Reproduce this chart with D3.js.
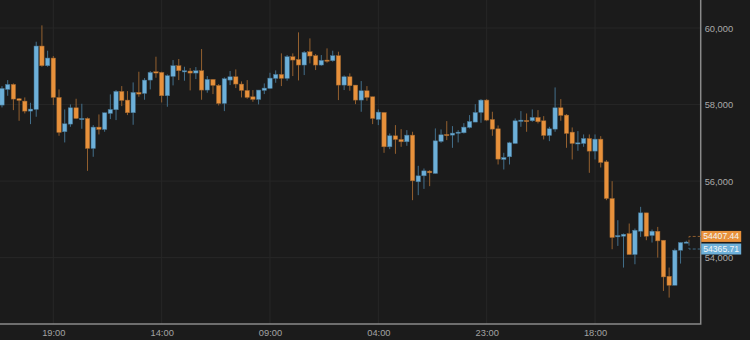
<!DOCTYPE html>
<html>
<head>
<meta charset="utf-8">
<script src="https://cdn.jsdelivr.net/npm/d3@7"></script>
<style>
  html, body { margin: 0; padding: 0; background: #1b1b1b; }
  svg { display: block; font-family: "Liberation Sans", Arial, sans-serif; }
</style>
</head>
<body>
<div id="chart"></div>
<script>
"use strict"

/*** DATA ***/
// hourly candles, first one opens at 10:00
let startTime = new Date(2021, 2, 1, 10, 0)

let openVals = [
    57986, 58396, 58527, 58152, 58091, 57829, 57873, 59530, 59015, 59216,
    58187, 57289, 57489, 57916, 57611, 57637, 56853, 57411, 57350, 57768,
    57864, 58344, 58117, 57786, 58318, 58291, 58640, 58858, 58841, 58230,
    58736, 59015, 58858, 58876, 58823, 58884, 58379, 58658, 58501, 58030,
    58640, 58727, 58536, 58370, 58204, 58134, 58370, 58422, 58684, 58788,
    58684, 59251, 59181, 59033, 59381, 59277, 59033, 59163, 59146, 59277,
    58509, 58727, 58509, 58117, 58361, 58204, 57611, 57794, 56896, 57184,
    57088, 57027, 57201, 55981, 56138, 56260, 56199, 57036, 57219, 57201,
    57254, 57262, 57402, 57542, 57794, 58117, 57611, 57367, 56565, 56635,
    56983, 57559, 57585, 57576, 57664, 57576, 57193, 57358, 57916, 57725,
    57280, 56975, 56983, 57114, 56783, 57097, 56504, 55545, 54542, 54559,
    54629, 54080, 54690, 55170, 54577, 54690, 54455, 53513, 53277, 54193,
    54394
]
let highVals = [
    58483, 58640, 58553, 58169, 58187, 58047, 59643, 60070, 59408, 59268,
    58396, 57873, 58004, 58152, 58021, 57664, 57463, 57742, 57786, 58265,
    58379, 58483, 58352, 58579, 58858, 58692, 58876, 59251, 58858, 58788,
    59163, 59190, 58989, 58954, 58980, 59451, 58745, 58658, 58536, 58710,
    58876, 58919, 58605, 58640, 58379, 58379, 58553, 58832, 58893, 59338,
    59294, 59338, 59887, 59399, 59730, 59320, 59294, 59469, 59408, 59381,
    58762, 58815, 58509, 58614, 58483, 58204, 57873, 57794, 57245, 57463,
    57358, 57332, 57289, 56399, 56329, 56286, 57376, 57350, 57568, 57437,
    57332, 57515, 57725, 58012, 58143, 58143, 57812, 57454, 56739, 57027,
    57637, 57829, 57768, 57873, 57855, 57698, 57419, 58448, 58143, 57751,
    57402, 57306, 57219, 57219, 57219, 57175, 56547, 55998, 54978, 54629,
    54891, 54760, 55327, 55170, 54734, 54803, 54455, 53740, 54237, 54394,
    54440
]
let lowVals = [
    57925, 58230, 57855, 57576, 57768, 57489, 57681, 58989, 58989, 57986,
    57184, 57010, 57419, 57620, 57367, 56268, 56635, 57219, 57289, 57620,
    57594, 57960, 57725, 57472, 58204, 58126, 58396, 58701, 58056, 57943,
    58501, 58640, 58623, 58370, 58666, 58126, 58309, 58274, 57977, 57829,
    58509, 58431, 58187, 58152, 58073, 58004, 58274, 58413, 58570, 58483,
    58623, 58745, 58631, 58771, 59076, 58902, 59015, 59094, 59120, 58117,
    58379, 58361, 58012, 57812, 58100, 57489, 57463, 56739, 56835, 56713,
    56896, 56922, 55501, 55632, 55797, 55867, 56199, 57001, 57071, 56870,
    57010, 57245, 57376, 57542, 57524, 57568, 57184, 56434, 56303, 56434,
    56983, 57419, 57289, 57550, 57507, 57088, 57044, 57289, 57576, 56870,
    56565, 56792, 56896, 56216, 56565, 56356, 55501, 54219, 54306, 53740,
    54080, 53827, 54542, 54455, 54394, 54001, 53129, 52955, 53277, 53844,
    54380
]
let closeVals = [
    58422, 58527, 58143, 58108, 57829, 57882, 59530, 59015, 59216, 58187,
    57271, 57498, 57916, 57637, 57637, 56853, 57411, 57350, 57786, 57873,
    58344, 58108, 57786, 58318, 58274, 58640, 58841, 58823, 58230, 58754,
    59015, 58884, 58884, 58823, 58884, 58379, 58658, 58501, 58030, 58675,
    58727, 58536, 58370, 58187, 58134, 58379, 58431, 58692, 58788, 58684,
    59251, 59163, 59033, 59364, 59268, 59033, 59155, 59137, 59277, 58509,
    58727, 58492, 58117, 58361, 58187, 57637, 57803, 56896, 57184, 57088,
    57027, 57201, 56007, 56138, 56268, 56216, 57053, 57210, 57193, 57254,
    57280, 57411, 57559, 57794, 58117, 57594, 57358, 56574, 56617, 57001,
    57576, 57594, 57568, 57664, 57550, 57193, 57367, 57916, 57716, 57245,
    56983, 57001, 57114, 56783, 57097, 56486, 55545, 54524, 54577, 54612,
    54080, 54716, 55170, 54559, 54690, 54437, 53495, 53277, 54194, 54394,
    54407
]

let priceTicks = [54000, 56000, 58000, 60000]
let timeTickIdx = [9, 28, 47, 66, 85, 104]      // candles sitting on the time labels
let tagValues = [54407.44, 54365.71]

/*** CANVAS SETUP ***/
let svgWidth = 750
let svgHeight = 340
let plotRight = 700.7
let plotBottom = 324

let upColor = "#6db0d9", upWick = "#436f8b"
let downColor = "#e8913b", downWick = "#94602f"

let svg = d3.select("#chart")
    .append("svg")
    .attr("width", svgWidth)
    .attr("height", svgHeight)

svg.append("rect")
    .attr("width", svgWidth)
    .attr("height", svgHeight)
    .attr("fill", "#1b1b1b")

let candles = openVals.map(function (o, i) {
    return {
        t: d3.timeHour.offset(startTime, i),
        o: o, h: highVals[i], l: lowVals[i], c: closeVals[i]
    }
})

/*** SCALES ***/
let xScale = d3.scaleTime()
    .domain([d3.timeMinute.offset(startTime, -21), d3.timeMinute.offset(startTime, 7352)])
    .range([0, plotRight])

let yScale = d3.scaleLinear()
    .domain([52265, 60733])
    .range([plotBottom, 0])

let timeTicks = timeTickIdx.map(function (i) { return candles[i].t })

/*** GRID ***/
svg.append("g")
    .selectAll("line")
    .data(timeTicks)
    .join("line")
    .attr("x1", function (d) { return xScale(d) })
    .attr("x2", function (d) { return xScale(d) })
    .attr("y1", 0)
    .attr("y2", plotBottom)
    .attr("stroke", "#272727")

svg.append("g")
    .selectAll("line")
    .data(priceTicks)
    .join("line")
    .attr("x1", 0)
    .attr("x2", plotRight)
    .attr("y1", function (d) { return yScale(d) })
    .attr("y2", function (d) { return yScale(d) })
    .attr("stroke", "#272727")

/*** CANDLES ***/
let candleG = svg.append("g")

candleG.selectAll("line")
    .data(candles)
    .join("line")
    .attr("x1", function (d) { return xScale(d.t) })
    .attr("x2", function (d) { return xScale(d.t) })
    .attr("y1", function (d) { return yScale(d.h) })
    .attr("y2", function (d) { return yScale(d.l) })
    .attr("stroke", function (d) { return d.c >= d.o ? upWick : downWick })
    .attr("stroke-width", 1)

candleG.selectAll("rect")
    .data(candles)
    .join("rect")
    .attr("x", function (d) { return xScale(d.t) - 2.2 })
    .attr("width", 4.4)
    .attr("y", function (d) { return yScale(Math.max(d.o, d.c)) })
    .attr("height", function (d) { return Math.max(1.2, Math.abs(yScale(d.o) - yScale(d.c))) })
    .attr("fill", function (d) { return d.c >= d.o ? upColor : downColor })
    .attr("stroke", function (d) { return d.c >= d.o ? upWick : downWick })
    .attr("stroke-width", 0.5)

/*** AXES ***/
let yAxis = d3.axisRight(yScale)
    .tickValues(priceTicks)
    .tickFormat(d3.format(","))
    .tickSize(0)
    .tickPadding(4)

let yAxisG = svg.append("g")
    .attr("transform", "translate(" + plotRight + ",0)")
    .call(yAxis)
yAxisG.select(".domain").remove()
yAxisG.selectAll("text")
    .attr("fill", "#a9a9a9")
    .attr("font-size", "9.3px")
    .attr("font-family", "'Liberation Sans', Arial, sans-serif")

let xAxis = d3.axisBottom(xScale)
    .tickValues(timeTicks)
    .tickFormat(d3.timeFormat("%H:%M"))
    .tickSize(0)
    .tickPadding(5)

let xAxisG = svg.append("g")
    .attr("transform", "translate(0," + plotBottom + ")")
    .call(xAxis)
xAxisG.select(".domain").remove()
xAxisG.selectAll("text")
    .attr("fill", "#a3a3a3")
    .attr("font-size", "9.3px")
    .attr("font-family", "'Liberation Sans', Arial, sans-serif")

// L-shaped frame on the right and bottom
svg.append("path")
    .attr("d", "M" + plotRight + ",0V" + plotBottom + "H0")
    .attr("fill", "none")
    .attr("stroke", "#8a8a8a")
    .attr("stroke-width", 1.5)

/*** LAST PRICE TAGS ***/
let tagCenters = [yScale(tagValues[0]) - 5.6, yScale(tagValues[1]) + 5.4]
let tagColors = [downColor, upColor]
let bracketX = 689

svg.append("path")
    .attr("d", "M" + plotRight + "," + tagCenters[0] + "H" + bracketX + "V" + (tagCenters[0] + tagCenters[1]) / 2)
    .attr("fill", "none")
    .attr("stroke", "#8f5d2e")
    .attr("stroke-dasharray", "3,2")

svg.append("path")
    .attr("d", "M" + bracketX + "," + (tagCenters[0] + tagCenters[1]) / 2 + "V" + tagCenters[1] + "H" + plotRight)
    .attr("fill", "none")
    .attr("stroke", "#3f6a86")
    .attr("stroke-dasharray", "3,2")

let tags = svg.append("g")
    .selectAll("g")
    .data(tagValues)
    .join("g")
    .attr("transform", function (d, i) { return "translate(" + (plotRight + 0.5) + "," + tagCenters[i] + ")" })

tags.append("rect")
    .attr("x", 0)
    .attr("y", -5.5)
    .attr("width", 40)
    .attr("height", 11)
    .attr("fill", function (d, i) { return tagColors[i] })

tags.append("text")
    .attr("x", 20)
    .attr("y", 0)
    .attr("dy", "0.35em")
    .attr("text-anchor", "middle")
    .attr("fill", "#f4f4f4")
    .attr("font-size", "8.6px")
    .text(function (d) { return d.toFixed(2) })
</script>
</body>
</html>
